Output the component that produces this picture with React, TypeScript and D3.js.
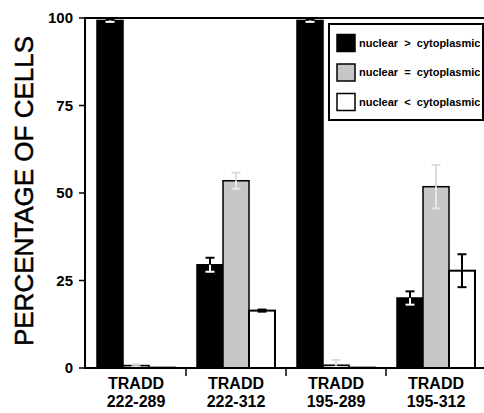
import * as d3 from 'd3'

// groups along the x axis
const constructs = ['222-289', '222-312', '195-289', '195-312']
const prefix = 'TRADD'

// series (localisation classes)
const seriesKeys = ['gt', 'eq', 'lt']
const seriesLabels = ['nuclear  >  cytoplasmic', 'nuclear  =  cytoplasmic', 'nuclear  <  cytoplasmic']

// mean percentage of cells per construct, and error (+/-)
const nuclearGreater = [99.3, 29.5, 99.3, 20.0]
const nuclearGreaterErr = [0.4, 2.0, 0.4, 1.9]
const nuclearEqual = [0.7, 53.5, 0.8, 51.8]
const nuclearEqualErr = [0.3, 2.3, 1.5, 6.2]
const nuclearLess = [0.1, 16.4, 0.1, 27.8]
const nuclearLessErr = [0.0, 0.3, 0.0, 4.7]

const yTicks = [0, 25, 50, 75, 100]

const values = [nuclearGreater, nuclearEqual, nuclearLess]
const errors = [nuclearGreaterErr, nuclearEqualErr, nuclearLessErr]

const fills = ['#000000', '#c6c6c6', '#ffffff']
// error bar colours: part above the bar / part inside the bar
const errOutside = ['#000000', '#dcdcdc', '#000000']
const errInside = ['#ffffff', '#e8e8e8', '#000000']

const W = 484
const H = 413
const font = '"Liberation Sans", Arial, Helvetica, sans-serif'

export default function App() {
  const left = 85
  const right = 484
  const top = 18
  const bottom = 368

  const y = d3.scaleLinear().domain([0, 100]).range([bottom, top])
  const x = d3.scaleBand().domain(constructs).range([left + 1, left + 401]).padding(0)
  const xs = d3
    .scaleBand()
    .domain(seriesKeys)
    .range([11, x.bandwidth() - 11])
    .padding(0)

  const capW = 9

  return (
    <div style={{ position: 'fixed', left: 0, top: 0 }}>
      <svg width={W} height={H} style={{ display: 'block', background: '#fff' }}>
        {/* y title */}
        <text
          transform={`translate(33,191) rotate(-90)`}
          textAnchor="middle"
          fontFamily={font}
          fontSize={26}
          fill="#000"
          stroke="#000"
          strokeWidth={0.5}
        >
          PERCENTAGE OF CELLS
        </text>

        {/* bars */}
        {seriesKeys.map((k, si) =>
          constructs.map((c, gi) => {
            const v = values[si][gi]
            const e = errors[si][gi]
            const bx = (x(c) as number) + (xs(k) as number)
            const bw = xs.bandwidth()
            const cx = bx + bw / 2
            return (
              <g key={k + c}>
                <rect
                  x={bx}
                  y={y(v)}
                  width={bw}
                  height={bottom - y(v)}
                  fill={fills[si]}
                  stroke="#000"
                  strokeWidth={si === 2 ? 2 : 1.5}
                />
                {e > 0 && (
                  <g strokeWidth={2}>
                    <line x1={cx} x2={cx} y1={y(v)} y2={y(v + e)} stroke={errOutside[si]} />
                    <line
                      x1={cx - capW / 2}
                      x2={cx + capW / 2}
                      y1={y(v + e)}
                      y2={y(v + e)}
                      stroke={errOutside[si]}
                    />
                    <line
                      x1={cx}
                      x2={cx}
                      y1={y(v)}
                      y2={Math.min(y(v - e), bottom - 1)}
                      stroke={errInside[si]}
                    />
                    <line
                      x1={cx - capW / 2}
                      x2={cx + capW / 2}
                      y1={Math.min(y(v - e), bottom - 1)}
                      y2={Math.min(y(v - e), bottom - 1)}
                      stroke={errInside[si]}
                    />
                  </g>
                )}
              </g>
            )
          })
        )}

        {/* frame / axes */}
        <line x1={left} x2={right} y1={top} y2={top} stroke="#000" strokeWidth={2} />
        <line x1={left} x2={left} y1={top - 1} y2={bottom + 1} stroke="#000" strokeWidth={2} />
        <line x1={left} x2={right} y1={bottom} y2={bottom} stroke="#000" strokeWidth={2} />

        {yTicks.map((t) => (
          <g key={t}>
            <line x1={left - 6} x2={left} y1={y(t)} y2={y(t)} stroke="#000" strokeWidth={1.5} />
            <text
              x={left - 12}
              y={y(t)}
              dy="0.36em"
              textAnchor="end"
              fontFamily={font}
              fontWeight="bold"
              fontSize={15}
              fill="#000"
            >
              {t}
            </text>
          </g>
        ))}

        {constructs.slice(1).map((c) => (
          <line
            key={c}
            x1={x(c) as number}
            x2={x(c) as number}
            y1={bottom}
            y2={bottom + 8}
            stroke="#000"
            strokeWidth={1.5}
          />
        ))}

        {constructs.map((c) => {
          const cx = (x(c) as number) + x.bandwidth() / 2
          return (
            <g key={c} fontFamily={font} fontWeight="bold" fontSize={16} fill="#000">
              <text x={cx} y={389} textAnchor="middle">
                {prefix}
              </text>
              <text x={cx} y={407} textAnchor="middle">
                {c}
              </text>
            </g>
          )
        })}

        {/* legend */}
        <g>
          <rect x={329} y={24} width={154} height={96} fill="#fff" stroke="#000" strokeWidth={2} />
          {seriesLabels.map((lab, i) => {
            const cy = 43 + i * 29.5
            return (
              <g key={lab}>
                <rect
                  x={337}
                  y={cy - 8.5}
                  width={18}
                  height={17}
                  fill={fills[i]}
                  stroke="#000"
                  strokeWidth={1.5}
                />
                <text
                  x={359}
                  y={cy}
                  dy="0.35em"
                  fontFamily={font}
                  fontWeight="bold"
                  fontSize={11}
                  fill="#000"
                  style={{ whiteSpace: 'pre' }}
                >
                  {lab}
                </text>
              </g>
            )
          })}
        </g>
      </svg>
    </div>
  )
}
